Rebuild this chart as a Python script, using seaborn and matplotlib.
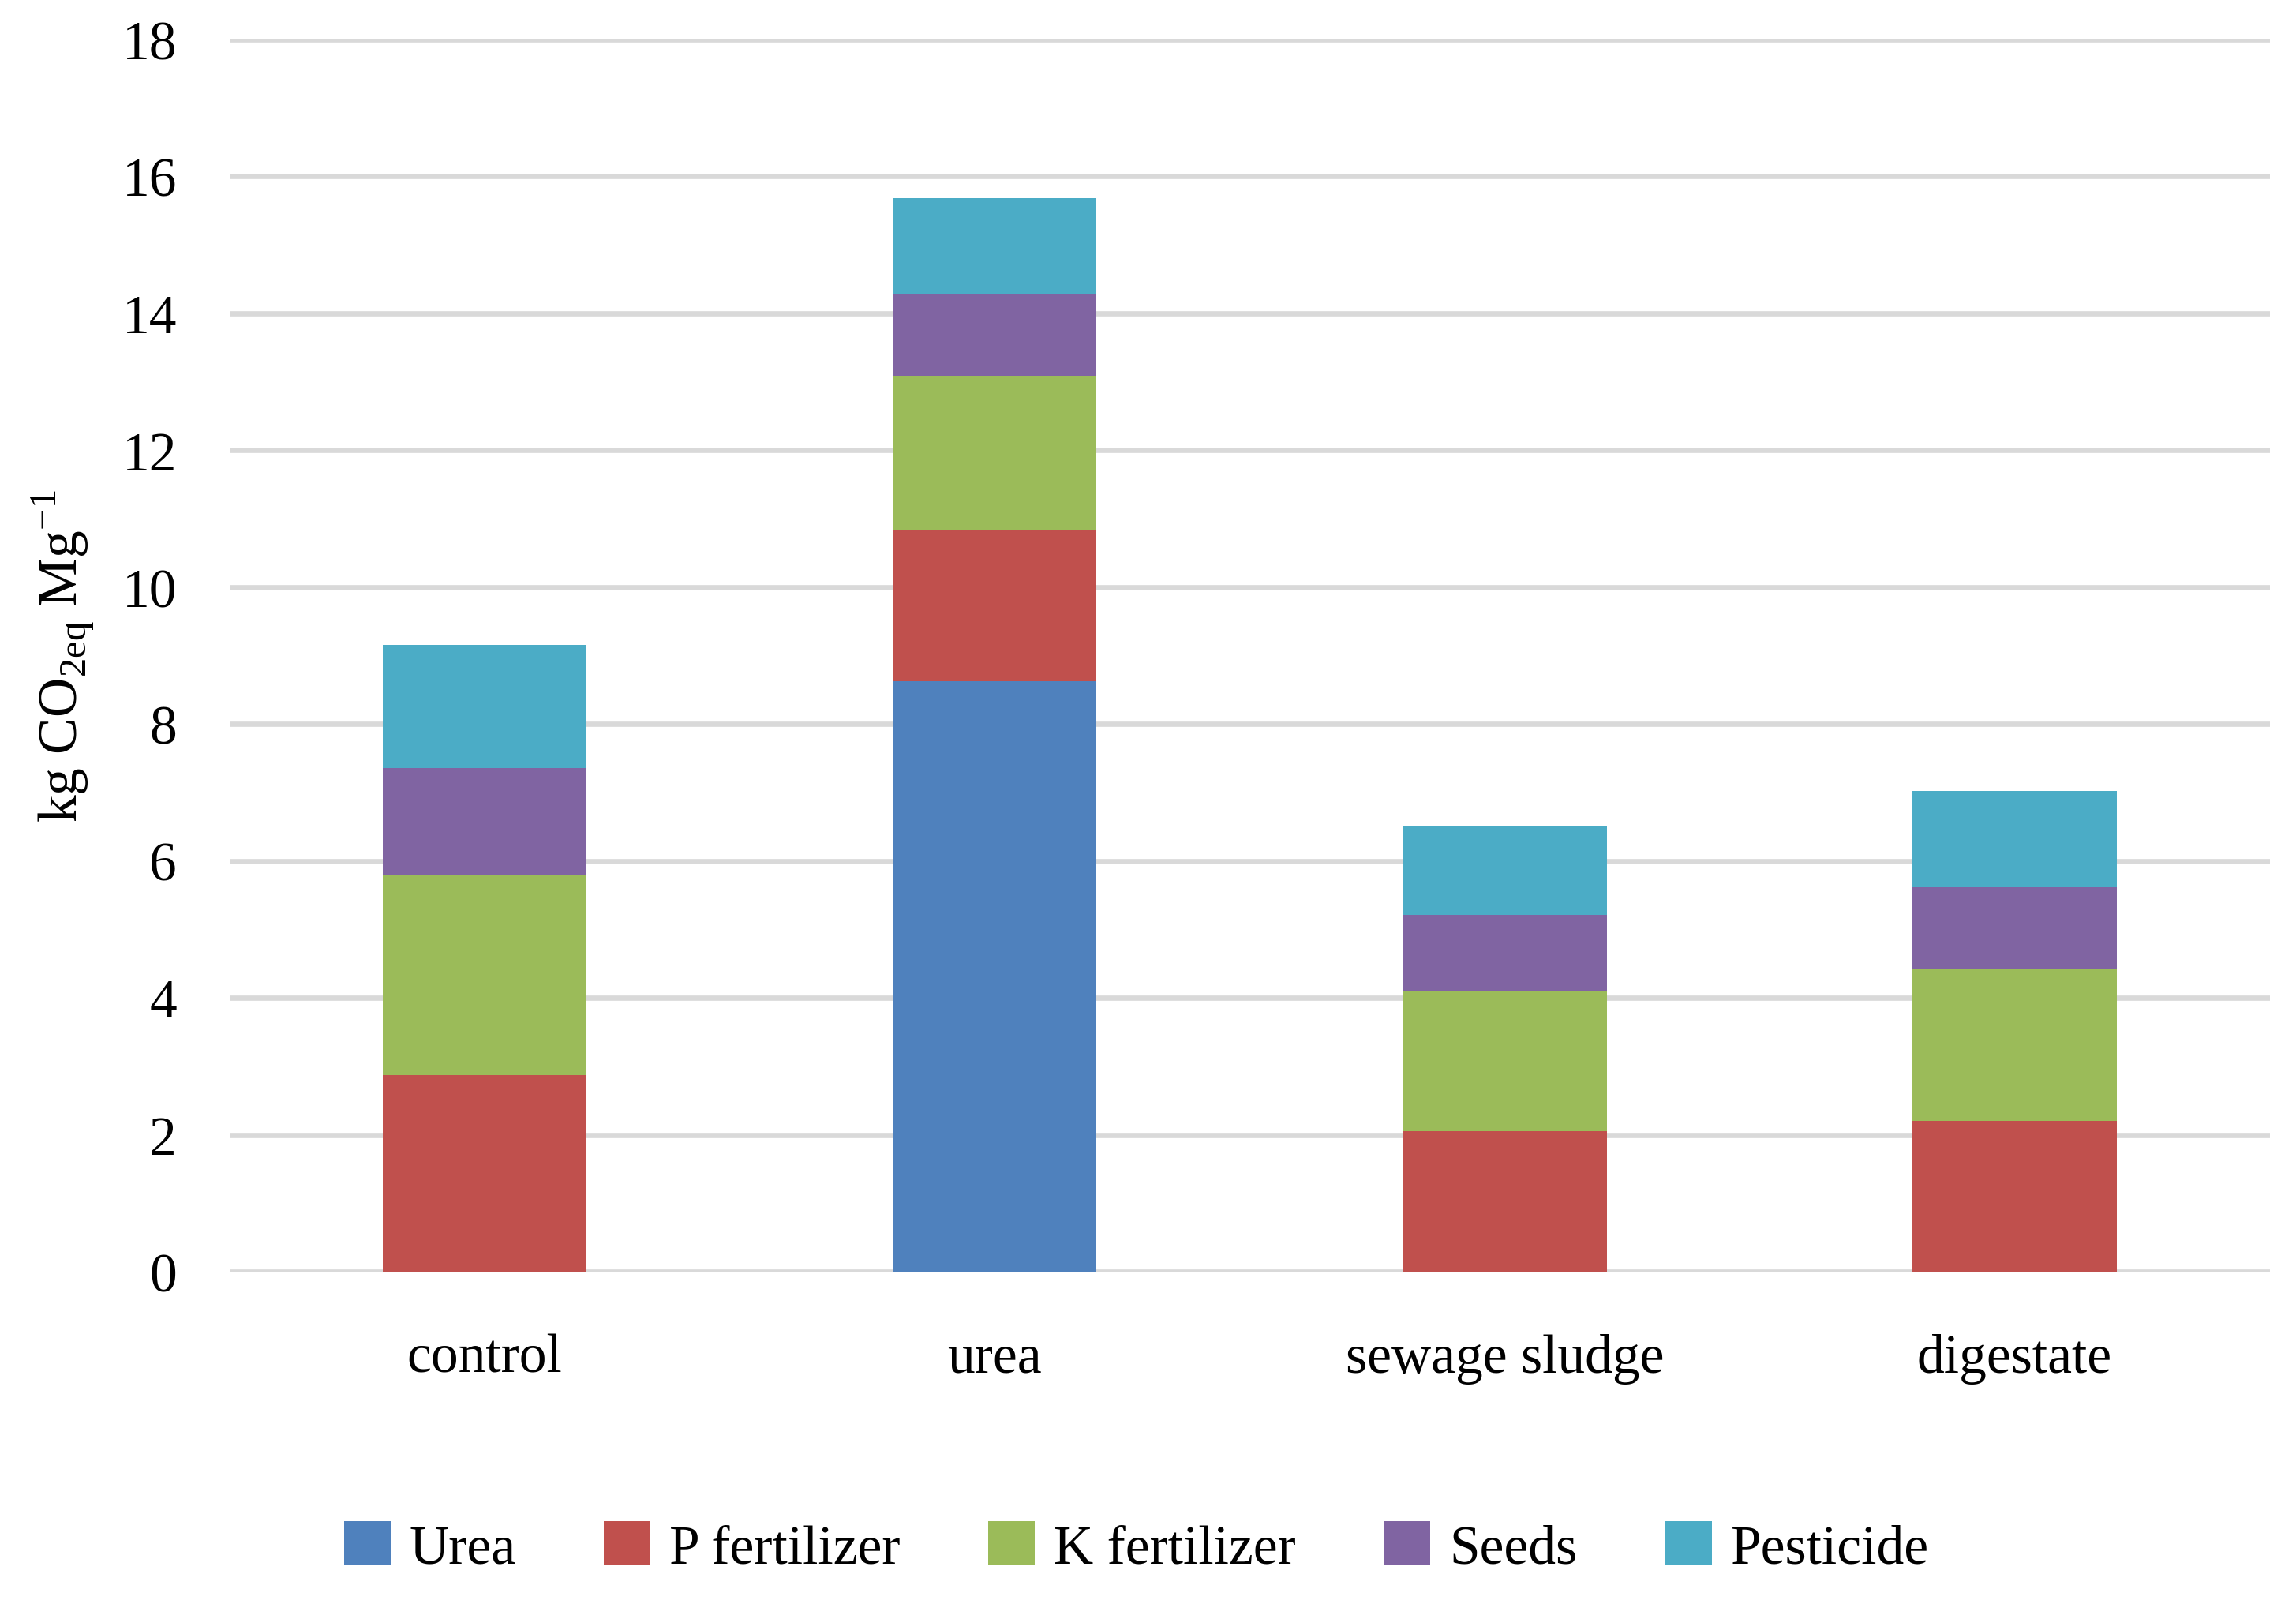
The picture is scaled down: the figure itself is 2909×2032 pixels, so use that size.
import matplotlib
matplotlib.use("Agg")
import matplotlib.pyplot as plt
import seaborn as sns
import numpy as np

# treatments and emission components (kg CO2eq / Mg)
categories = ["control", "urea", "sewage sludge", "digestate"]
urea_vals = [0.0, 8.62, 0.0, 0.0]
p_fert = [2.87, 2.21, 2.05, 2.20]
k_fert = [2.93, 2.26, 2.06, 2.23]
seeds = [1.56, 1.19, 1.10, 1.19]
pesticide = [1.80, 1.40, 1.29, 1.40]

series_names = ["Urea", "P fertilizer", "K fertilizer", "Seeds", "Pesticide"]
colors = ["#4F81BD", "#C0504D", "#9BBB59", "#8064A2", "#4BACC6"]

sns.set_style("white")
plt.rcParams["font.family"] = ["Liberation Serif", "DejaVu Serif"]
plt.rcParams["mathtext.fontset"] = "custom"
plt.rcParams["mathtext.rm"] = "Liberation Serif"
plt.rcParams["text.color"] = "black"
plt.rcParams["axes.labelcolor"] = "black"
plt.rcParams["xtick.color"] = "black"
plt.rcParams["ytick.color"] = "black"

fig, ax = plt.subplots(figsize=(14.545, 10.165), dpi=200)
fig.subplots_adjust(left=0.100, right=0.9885, top=0.975, bottom=0.207)

bottom = np.zeros(len(categories))
for name, vals, col in zip(series_names, [urea_vals, p_fert, k_fert, seeds, pesticide], colors):
    sns.barplot(x=categories, y=vals, bottom=bottom, color=col, width=0.4,
                label=name, ax=ax, linewidth=0, saturation=1)
    bottom = bottom + np.array(vals)

ax.set_ylim(0, 18)
ax.set_yticks(range(0, 19, 2))
ax.set_xlim(-0.5, 3.5)
ax.yaxis.grid(True, color="#d9d9d9", linewidth=2.4)
ax.set_axisbelow(True)
for s in ax.spines.values():
    s.set_visible(False)
ax.tick_params(axis="y", length=0, pad=24, labelsize=25)
ax.tick_params(axis="x", length=0, pad=28, labelsize=25)
ax.set_ylabel(r"kg CO$_{\mathregular{2eq}}$ Mg$^{\mathregular{-1}}$", fontsize=25, labelpad=12)

ax.legend().remove()
handles, labels = ax.get_legend_handles_labels()
fig.legend(handles, labels, loc="center", bbox_to_anchor=(0.495, 0.035), ncol=5,
           frameon=False, fontsize=25, handlelength=0.85, handleheight=0.85,
           handletextpad=0.35, columnspacing=1.6)

fig.savefig("out.png", dpi=200)
